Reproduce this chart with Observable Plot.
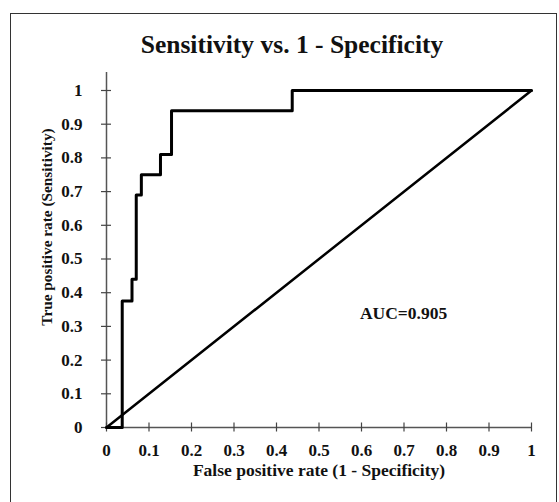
<!DOCTYPE html>
<html>
<head>
<meta charset="utf-8">
<script src="https://cdn.jsdelivr.net/npm/d3@7"></script>
<script src="https://cdn.jsdelivr.net/npm/@observablehq/plot@0.6"></script>
<style>
  html, body { margin: 0; padding: 0; background: #fff; }
  #wrap { position: relative; width: 559px; height: 502px; overflow: hidden; }
  #border { position: absolute; left: 10px; top: 13px; width: 547px; height: 520px; border: 1.5px solid #333; box-sizing: border-box; }
  #title { position: absolute; left: 0; top: 30px; width: 584px; text-align: center;
           font-family: "Liberation Serif", "Times New Roman", serif; font-weight: bold; font-size: 25.5px; color: #111; }
  #chart { position: absolute; left: 0; top: 0; }
</style>
</head>
<body>
<div id="wrap">
  <div id="border"></div>
  <div id="title"></div>
  <div id="chart"></div>
</div>
<script>
const titleText = "Sensitivity vs. 1 - Specificity";
const xLabel = "False positive rate (1 - Specificity)";
const yLabel = "True positive rate (Sensitivity)";

// ROC curve points
const fpr = [0, 0.037, 0.037, 0.06, 0.06, 0.07, 0.07, 0.082, 0.082, 0.127, 0.127, 0.153, 0.153, 0.437, 0.437, 1];
const tpr = [0, 0, 0.375, 0.375, 0.44, 0.44, 0.69, 0.69, 0.75, 0.75, 0.81, 0.81, 0.94, 0.94, 1, 1];

// Reference (chance) line
const diagX = [0, 1];
const diagY = [0, 1];

// Tick values
const xTicks = [0, 0.1, 0.2, 0.3, 0.4, 0.5, 0.6, 0.7, 0.8, 0.9, 1];
const yTicks = [0, 0.1, 0.2, 0.3, 0.4, 0.5, 0.6, 0.7, 0.8, 0.9, 1];

// Annotation
const aucText = ["AUC=0.905"];
const aucX = [0.699];
const aucY = [0.34];

document.getElementById("title").textContent = titleText;

const roc = fpr.map((x, i) => ({x, y: tpr[i]}));
const diag = diagX.map((x, i) => ({x, y: diagY[i]}));
const auc = aucText.map((t, i) => ({t, x: aucX[i], y: aucY[i]}));

const serif = "Liberation Serif, Times New Roman, serif";
const fmt = d => String(d);

const chart = Plot.plot({
  width: 559,
  height: 502,
  marginLeft: 106,
  marginRight: 28,
  marginTop: 72,
  marginBottom: 75,
  style: {background: "transparent", fontFamily: serif},
  x: {domain: [0, 1], axis: null},
  y: {domain: [0, 1.0534], axis: null},
  marks: [
    // axis lines
    Plot.ruleX([0], {stroke: "#555", strokeWidth: 1.5}),
    Plot.ruleY([0], {stroke: "#555", strokeWidth: 1.5}),
    // crossing tick marks
    Plot.axisX(xTicks, {tickSize: 9, dy: -4.5, tickFormat: () => "", label: null, stroke: "#444", strokeWidth: 1.2}),
    Plot.axisY(yTicks, {tickSize: 10, dx: 5, tickFormat: () => "", label: null, stroke: "#444", strokeWidth: 1.2}),
    // tick labels
    Plot.axisX(xTicks, {tickSize: 0, tickPadding: 16, tickFormat: fmt, label: null, fontSize: 17, fontWeight: "bold", fontFamily: serif, fill: "#111"}),
    Plot.axisY(yTicks, {tickSize: 0, tickPadding: 24, tickFormat: fmt, label: null, fontSize: 17, fontWeight: "bold", fontFamily: serif, fill: "#111"}),
    // axis titles
    Plot.text([xLabel], {text: d => d, frameAnchor: "bottom", textAnchor: "middle", dy: 48, fontSize: 17.5, fontWeight: "bold", fontFamily: serif, fill: "#111"}),
    Plot.text([yLabel], {text: d => d, frameAnchor: "left", textAnchor: "middle", rotate: -90, dx: -59, dy: -23, fontSize: 15.3, fontWeight: "bold", fontFamily: serif, fill: "#111"}),
    // diagonal
    Plot.line(diag, {x: "x", y: "y", stroke: "#000", strokeWidth: 2.5}),
    // ROC curve
    Plot.line(roc, {x: "x", y: "y", stroke: "#000", strokeWidth: 3, strokeLinejoin: "round", strokeLinecap: "round"}),
    // AUC annotation
    Plot.text(auc, {x: "x", y: "y", text: "t", fontSize: 17.5, fontWeight: "bold", fontFamily: serif, fill: "#111"})
  ]
});
document.getElementById("chart").appendChild(chart);
</script>
</body>
</html>
